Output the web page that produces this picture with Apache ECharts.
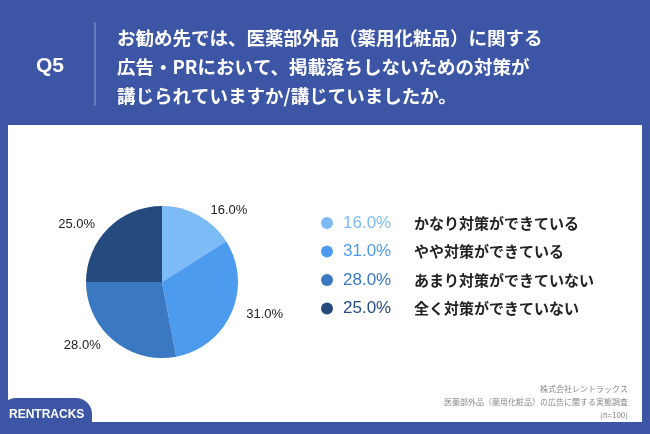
<!DOCTYPE html>
<html>
<head>
<meta charset="utf-8">
<script src="https://cdn.jsdelivr.net/npm/echarts@6/dist/echarts.min.js"></script>
<style>html,body{margin:0;padding:0;}#chart{width:650px;height:434px;}</style>
</head>
<body>
<div id="chart"></div>
<script>
var categories = ['かなり対策ができている', 'やや対策ができている', 'あまり対策ができていない', '全く対策ができていない'];
var values = [16.0, 31.0, 28.0, 25.0];
var colors = ['#7dbbf6', '#4d9bee', '#3a78c2', '#254b7e'];
var titleLines = ['お勧め先では、医薬部外品（薬用化粧品）に関する', '広告・PRにおいて、掲載落ちしないための対策が', '講じられていますか/講じていましたか。'];
var footLines = ['株式会社レントラックス', '医薬部外品（薬用化粧品）の広告に関する実態調査', '(n=100)'];

var font = '"Noto Sans CJK JP", sans-serif';
var chart = echarts.init(document.getElementById('chart'));

var extra = [];
for (var i = 0; i < categories.length; i++) {
    var y = 223 + i * 28.5;
    extra.push({ type: 'circle', shape: { cx: 327, cy: y, r: 6 }, style: { fill: colors[i] } });
    extra.push({ type: 'text', x: 343, y: y, style: { text: values[i].toFixed(1) + '%', font: '500 17px "Liberation Sans", sans-serif', fill: colors[i], verticalAlign: 'middle' } });
    extra.push({ type: 'text', x: 414, y: y, style: { text: categories[i], font: 'bold 15px ' + font, fill: '#222', verticalAlign: 'middle' } });
}
for (var j = 0; j < footLines.length; j++) {
    extra.push({ type: 'text', x: 628, y: 389 + j * 13, style: { text: footLines[j], font: '8px ' + font, fill: '#888', align: 'right', verticalAlign: 'middle' } });
}

var option = {
    backgroundColor: '#3c56a5',
    graphic: [
        { type: 'rect', shape: { x: 8, y: 125, width: 634, height: 297 }, style: { fill: '#fff' } },
        { type: 'rect', shape: { x: 0, y: 398, width: 92, height: 36, r: [16, 16, 0, 0] }, style: { fill: '#3c56a5' } },
        { type: 'text', x: 9, y: 415, style: { text: 'RENTRACKS', font: 'bold 12px "Liberation Sans", sans-serif', fill: '#fff', verticalAlign: 'middle' } },
        { type: 'text', x: 36, y: 66, style: { text: 'Q5', font: 'bold 21px "Liberation Sans", sans-serif', fill: '#fff', verticalAlign: 'middle' } },
        { type: 'line', shape: { x1: 95, y1: 22, x2: 95, y2: 106 }, style: { stroke: '#8ea0d2', lineWidth: 1 } },
        { type: 'text', x: 117, y: 23, style: { text: titleLines.join('\n'), font: 'bold 18.5px ' + font, lineHeight: 29, fill: '#fff' } }
    ].concat(extra),
    series: [{
        type: 'pie',
        center: [162, 282],
        radius: [0, 76],
        startAngle: 90,
        clockwise: true,
        color: colors,
        data: categories.map(function (c, i) { return { name: c, value: values[i] }; }),
        label: {
            show: true,
            formatter: function (p) { return p.value.toFixed(1) + '%'; },
            color: '#222',
            fontSize: 13,
            fontFamily: '"Liberation Sans", sans-serif'
        },
        labelLine: { show: false, length: 6, length2: 4 }
    }]
};
chart.setOption(option);
</script>
</body>
</html>
